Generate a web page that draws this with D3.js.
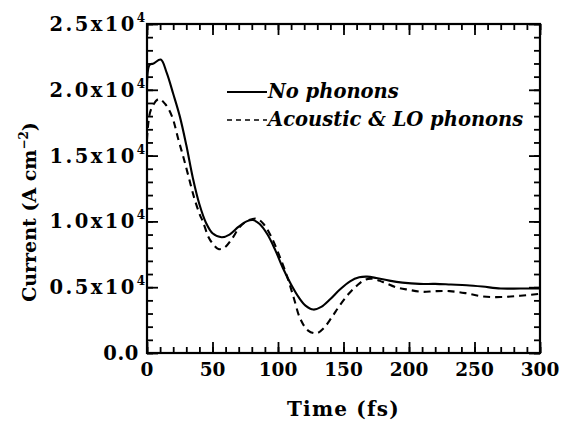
<!DOCTYPE html>
<html><head><meta charset="utf-8">
<script src="https://cdn.jsdelivr.net/npm/d3@7"></script>
<style>
html,body{margin:0;padding:0;background:#fff;}
svg{display:block;}
text{font-family:"DejaVu Serif",serif;fill:#000;}
</style></head><body>
<svg id="c" width="565" height="421"></svg>
<script>
// ---- data ----
const timeSolid = [0,2,5,10.5,15,20,25,30,35,40,45,50,57,63,70,76,81,86,92,98,104,110,116,121,127,133,140,147,155,162,168,175,185,195,208,220,232,244,256,270,285,300];
const noPhonons = [2.0,2.19,2.2,2.23,2.13,1.97,1.80,1.58,1.33,1.13,0.99,0.91,0.88,0.90,0.96,1.00,1.01,0.98,0.90,0.78,0.64,0.52,0.42,0.36,0.33,0.35,0.41,0.48,0.545,0.575,0.58,0.57,0.55,0.535,0.525,0.525,0.52,0.515,0.505,0.49,0.49,0.49];
const timeDashed = [0,3,9,14,19,24,28,32,36,40,43,47,51,54.5,59,65,71,78,84,89,95,101,107,112,117,123,129.5,135,141,147,154,160,166,172,180,190,200,210,220,231,243,256,270,285,300];
const acousticLO = [1.62,1.85,1.93,1.89,1.80,1.62,1.48,1.33,1.18,1.06,0.99,0.88,0.82,0.79,0.80,0.87,0.96,1.01,1.02,0.98,0.88,0.74,0.58,0.42,0.26,0.17,0.15,0.19,0.27,0.36,0.45,0.51,0.555,0.565,0.54,0.50,0.48,0.465,0.47,0.47,0.455,0.43,0.425,0.435,0.45];
const xTicks = [0,50,100,150,200,250,300];
const yTicks = [0,0.5,1.0,1.5,2.0,2.5];
const yTickLabels = ["0.0","0.5x10","1.0x10","1.5x10","2.0x10","2.5x10"];
const seriesNames = ["No phonons","Acoustic & LO phonons"];

// ---- layout ----
const svg = d3.select("#c");
const L=147, R=540, T=24, B=353;
const x = d3.scaleLinear().domain([0,300]).range([L,R]);
const y = d3.scaleLinear().domain([0,2.5]).range([B,T]);
const xMinor = d3.range(0,301,10);
const yMinor = d3.range(0,26,1).map(d=>d/10);

function styleAxis(g){
  g.select(".domain").remove();
  g.selectAll("line").attr("stroke","#000").attr("stroke-width",1.8);
  g.selectAll("text").remove();
}
// bottom
svg.append("g").attr("transform",`translate(0,${B})`).call(d3.axisBottom(x).tickValues(xMinor).tickSize(-6).tickFormat("")).call(styleAxis);
svg.append("g").attr("transform",`translate(0,${B})`).call(d3.axisBottom(x).tickValues(xTicks).tickSize(-11).tickFormat("")).call(styleAxis);
// top
svg.append("g").attr("transform",`translate(0,${T})`).call(d3.axisTop(x).tickValues(xMinor).tickSize(-6).tickFormat("")).call(styleAxis);
svg.append("g").attr("transform",`translate(0,${T})`).call(d3.axisTop(x).tickValues(xTicks).tickSize(-11).tickFormat("")).call(styleAxis);
// left
svg.append("g").attr("transform",`translate(${L},0)`).call(d3.axisLeft(y).tickValues(yMinor).tickSize(-6).tickFormat("")).call(styleAxis);
svg.append("g").attr("transform",`translate(${L},0)`).call(d3.axisLeft(y).tickValues(yTicks).tickSize(-11).tickFormat("")).call(styleAxis);
// right
svg.append("g").attr("transform",`translate(${R},0)`).call(d3.axisRight(y).tickValues(yMinor).tickSize(-6).tickFormat("")).call(styleAxis);
svg.append("g").attr("transform",`translate(${R},0)`).call(d3.axisRight(y).tickValues(yTicks).tickSize(-11).tickFormat("")).call(styleAxis);
// frame
svg.append("rect").attr("x",L).attr("y",T).attr("width",R-L).attr("height",B-T)
  .attr("fill","none").attr("stroke","#000").attr("stroke-width",2.2);

// tick labels
svg.append("g").selectAll("text").data(xTicks).join("text")
  .attr("x",d=>x(d)).attr("y",B+23).attr("text-anchor","middle")
  .attr("font-size",18.5).attr("font-weight","bold").text(d=>d);
const yl = svg.append("g").selectAll("text").data(yTicks).join("text")
  .attr("x",d=>d===0?L-8:L-2).attr("y",d=>y(d)+7).attr("text-anchor","end")
  .attr("font-size",19.5).attr("font-weight","bold").attr("letter-spacing",d=>d===0?0.6:2.4);
yl.append("tspan").text((d,i)=>yTickLabels[i]);
yl.filter(d=>d!==0).append("tspan").attr("dy",-9).attr("font-size",12).attr("letter-spacing",0).text("4");

// axis titles
svg.append("text").attr("x",(L+R)/2).attr("y",416).attr("text-anchor","middle")
  .attr("font-size",20).attr("font-weight","bold").attr("letter-spacing",1.2).text("Time (fs)");
const yt = svg.append("text").attr("transform",`translate(36,212) rotate(-90)`)
  .attr("text-anchor","middle").attr("font-size",19).attr("font-weight","bold");
yt.append("tspan").text("Current (A cm");
yt.append("tspan").attr("dy",-8).attr("font-size",12).text("−2");
yt.append("tspan").attr("dy",8).text(")");

// curves
const line = d3.line().x(d=>x(d[0])).y(d=>y(d[1])).curve(d3.curveCatmullRom.alpha(0.5));
svg.append("path").datum(d3.zip(timeDashed,acousticLO)).attr("d",line)
  .attr("fill","none").attr("stroke","#000").attr("stroke-width",2.1).attr("stroke-dasharray","7,5");
svg.append("path").datum(d3.zip(timeSolid,noPhonons)).attr("d",line)
  .attr("fill","none").attr("stroke","#000").attr("stroke-width",2.1);

// legend
const lg = svg.append("g");
const legY=[92,120];
lg.selectAll("line").data(seriesNames).join("line")
  .attr("x1",227).attr("x2",267).attr("y1",(d,i)=>legY[i]).attr("y2",(d,i)=>legY[i])
  .attr("stroke","#000").attr("stroke-width",(d,i)=>i?1.5:1.8).attr("stroke-dasharray",(d,i)=>i?"5,4":null);
lg.selectAll("text").data(seriesNames).join("text")
  .attr("x",268).attr("y",(d,i)=>legY[i]+6).attr("font-size",19.5)
  .attr("font-weight","bold").attr("font-style","italic").text(d=>d);
</script></body></html>
